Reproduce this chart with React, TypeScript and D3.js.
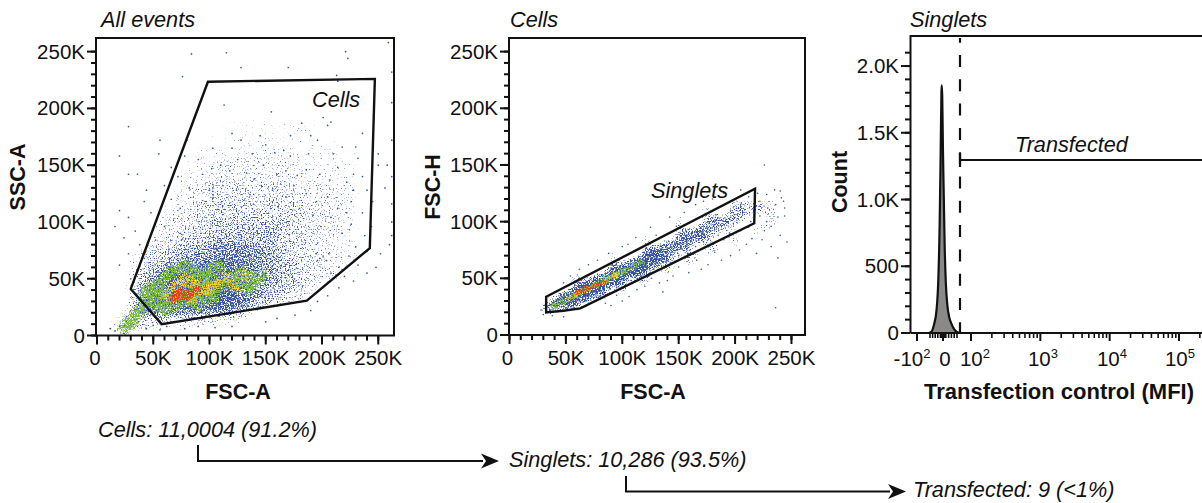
import React from "react";
import * as d3 from "d3";

const FONT = "'Liberation Sans', Arial, sans-serif";
const kTicks = [0, 50, 100, 150, 200, 250];
const kMinor = d3.range(0, 260, 10);
const countTicks = [0, 500, 1000, 1500, 2000];
const countLabels = ["0", "500", "1.0K", "1.5K", "2.0K"];
const countMinor = d3.range(0, 2200, 100);
const mfiMajor = [-100, 0, 100, 1000, 10000, 100000];
const mfiMinor = [-50, -40, -30, -20, -10, -5, 5, 10, 20, 30, 40, 50, 200, 300, 400, 500, 600, 700, 800, 900,
  2000, 3000, 4000, 5000, 6000, 7000, 8000, 9000, 20000, 30000, 40000, 50000, 60000, 70000, 80000, 90000, 200000];
const mfiLabels = [["-10", "2"], ["0", ""], ["10", "2"], ["10", "3"], ["10", "4"], ["10", "5"]];
const mfiLabelX = [912, 945, 975, 1043, 1112, 1180];

// density, FSC-A columns and SSC-A rows, in K
const gridX = [10, 30, 50, 70, 90, 110, 130, 150, 170, 190, 210, 230, 250];
const gridY = [190, 170, 150, 130, 110, 90, 70, 50, 30, 10];
const gridA = [
  [0, 0, 0, 0, 0, 1, 1, 1, 1, 1, 0, 0, 0],
  [0, 0, 0, 0, 1, 1, 2, 2, 2, 1, 1, 1, 0],
  [0, 0, 0, 1, 2, 3, 3, 3, 3, 2, 2, 1, 0],
  [0, 0, 0, 2, 3, 4, 4, 4, 4, 3, 3, 2, 0],
  [0, 0, 1, 3, 4, 5, 5, 5, 5, 4, 3, 2, 0],
  [0, 0, 2, 4, 5, 6, 6, 6, 5, 4, 3, 2, 0],
  [0, 2, 5, 6, 7, 8, 8, 7, 5, 4, 3, 2, 0],
  [0, 3, 7, 9, 9, 9, 8, 7, 6, 4, 3, 1, 0],
  [0, 4, 9, 9, 9, 9, 8, 6, 4, 2, 0, 0, 0],
  [3, 6, 4, 3, 3, 2, 1, 0, 0, 0, 0, 0, 0],
];
const greenA = [[24, 6], [30, 12], [36, 20], [42, 38], [50, 28], [55, 46], [62, 22], [66, 56], [75, 30], [78, 62], [90, 28], [92, 56], [104, 34], [108, 62], [118, 46], [128, 56], [135, 40], [146, 52], [84, 44], [100, 46], [58, 36]];
const yellowA = [[60, 34], [68, 44], [76, 36], [84, 30], [88, 46], [98, 38], [106, 46], [116, 52], [124, 40], [132, 54], [78, 52]];
const redA = [[68, 32], [74, 36], [80, 33], [84, 38], [72, 41], [90, 42]];

const pointsA = [
  [84, 248], [115, 249], [128, 236], [170, 236], [221, 250], [223, 244], [76, 228], [259, 258], [213, 229], [214, 224], [113, 203], [155, 197], [182, 187],
  [201, 192], [208, 188], [205, 185], [28, 184], [80, 172], [55, 160], [20, 158], [28, 142], [36, 142], [56, 172], [78, 158], [90, 155],
  [120, 178], [128, 172], [150, 168], [158, 161], [166, 163], [172, 158], [190, 176], [196, 172], [218, 166], [230, 166], [236, 178], [250, 160], [258, 150],
  [250, 150], [232, 156], [110, 150], [118, 145], [102, 147], [133, 143], [140, 138], [148, 150], [160, 142], [178, 141], [186, 146], [198, 142], [207, 137],
  [214, 148], [222, 135], [228, 142], [240, 128], [245, 118], [256, 130], [262, 116], [262, 100], [262, 88], [262, 140], [262, 172], [262, 205], [262, 232], [260, 80],
  [252, 72], [248, 60], [240, 55], [232, 62], [228, 48], [215, 42], [205, 35], [196, 30], [190, 22], [176, 18], [160, 15], [150, 12], [120, 8], [105, 7], [90, 8], [78, 6],
  [20, 110], [28, 104], [16, 96], [34, 92], [24, 86], [42, 118], [48, 108], [38, 80], [28, 72], [20, 62], [44, 128], [60, 132], [66, 120], [72, 140], [82, 130], [94, 142],
  [100, 128], [112, 132], [124, 128], [136, 124], [146, 132], [156, 128], [168, 122], [175, 132], [186, 125], [195, 118], [205, 122], [214, 112], [226, 118], [236, 108], [244, 96],
  [238, 88], [226, 98], [218, 90], [208, 104], [199, 96], [192, 106], [180, 112], [60, 96], [52, 84], [64, 76], [195, 72], [198, 68], [201, 70], [196, 66], [204, 66], [206, 72],
  [230, 78], [240, 74], [224, 70], [215, 60], [208, 55], [220, 52], [12, 6], [16, 4], [20, 8], [24, 2], [44, 6], [50, 9], [56, 5], [62, 8], [125, 155], [138, 160], [103, 165],
  [66, 148], [74, 112], [145, 176], [172, 176], [168, 145], [210, 160], [188, 160], [120, 165], [228, 128], [222, 108], [236, 140], [76, 85], [42, 68], [36, 58], [30, 50],
];

const stemsA = [[103, 118], [103, 121], [103, 124], [103, 127], [103, 130], [103, 133]];

const cellsB = [
  [35, 25, 7], [50, 31, 9], [65, 38, 9], [80, 46, 9], [95, 53, 9], [110, 60, 9], [125, 68, 9], [140, 76, 8], [155, 84, 8], [170, 90, 8], [185, 98, 7], [200, 104, 6], [215, 112, 5],
  [60, 28, 2], [80, 34, 4], [100, 42, 4], [120, 50, 5], [140, 60, 5], [160, 68, 5], [180, 76, 4], [200, 84, 4], [220, 92, 3], [235, 100, 3], [230, 115, 3],
  [60, 50, 3], [90, 68, 3], [120, 84, 3], [150, 100, 3], [175, 110, 3], [200, 120, 3],
];
const greenB = [[38, 25], [46, 29], [54, 33], [62, 37], [70, 41], [78, 45], [86, 49], [94, 53], [102, 57], [110, 61], [118, 65]];
const yellowB = [[52, 32], [60, 36], [68, 40], [76, 44], [84, 48], [92, 52], [98, 55]];
const redB = [[60, 37], [66, 40], [72, 42], [78, 45], [84, 47]];

const pointsB = [
  [226, 150], [228, 124], [235, 128], [240, 127], [241, 121], [243, 118], [236, 115], [244, 112], [229, 112], [222, 118], [238, 104], [244, 105], [232, 96],
  [226, 92], [240, 88], [224, 84], [232, 78], [219, 72], [210, 80], [204, 75], [196, 70], [188, 66], [182, 73], [176, 62], [170, 58], [166, 66], [159, 55], [150, 60],
  [145, 52], [140, 48], [133, 46], [126, 50], [120, 43], [113, 40], [106, 34], [100, 30], [95, 35], [90, 26], [85, 28], [136, 38], [158, 72], [190, 84], [212, 95], [246, 82], [238, 68],
  [236, 24], [100, 78], [88, 72], [78, 66], [70, 62], [62, 58], [54, 52], [48, 46], [80, 58], [112, 86], [105, 80], [125, 95], [130, 88], [142, 104], [155, 108], [148, 96],
  [165, 115], [172, 118], [180, 120], [190, 125], [205, 128], [197, 118], [212, 122], [205, 115], [196, 110], [183, 106], [176, 100], [214, 100], [222, 105], [220, 125],
  [228, 100], [215, 85], [205, 92], [195, 90], [185, 88], [172, 82], [165, 78], [150, 70], [138, 65], [128, 58], [118, 54], [108, 48], [95, 42], [30, 18], [28, 22], [38, 17], [48, 16],
];

const histMfi = [-55, -45, -35, -25, -18, -13, -9, -6, -5, -3, 0, 3, 6, 10, 16, 22, 30, 38, 48, 56];
const histCount = [0, 8, 60, 170, 400, 800, 1350, 1800, 1855, 1780, 1350, 1000, 650, 380, 200, 120, 70, 35, 10, 0];

const gateCells = [[98.6, 223.5], [247, 226], [242.5, 77], [186.5, 30.7], [57.5, 10], [30, 41]];
const gateSinglets = [[32.5, 33.7], [217.7, 129.1], [217, 98.6], [62.8, 23.5], [47.8, 21.4], [32.5, 20]];

// how much of an area gets a dot at each density level
const levelAlpha = [0, 0.42, 0.46, 0.49, 0.53, 0.57, 0.61, 0.67, 0.75, 0.88];

const xA = d3.scaleLinear().domain([0, 264]).range([97, 394]);
const yA = d3.scaleLinear().domain([0, 262]).range([335.5, 38]);
const xB = d3.scaleLinear().domain([0, 262]).range([509.5, 805]);
const yB = d3.scaleLinear().domain([0, 262]).range([335, 38]);
const yC = d3.scaleLinear().domain([0, 2210]).range([333, 38]);
const xLow = d3.scaleLinear().domain([-100, 0, 100]).range([917, 943, 971]);
const xLog = d3.scaleLog().domain([100, 100000]).range([971, 1179]);
const xC = (v: number) => (v <= 100 ? xLow(v) : xLog(v));

const BLUE = "#37559f";
const GREEN = "#7cbd45";
const YELLOW = "#f0cf2d";
const RED = "#e6401d";
const TICK = 20.5;
const LABEL = 21.5;
const NOTE = 21.7;

function Speckle({ id, colour, blur, cut, seed, children }: any) {
  return (
    <g>
      <filter id={id} filterUnits="userSpaceOnUse" x="0" y="0" width="1202" height="503" colorInterpolationFilters="sRGB">
        <feGaussianBlur in="SourceAlpha" stdDeviation={blur} result="b" />
        <feTurbulence type="fractalNoise" baseFrequency="0.75" numOctaves="2" seed={seed} result="n" />
        <feComposite in="b" in2="n" operator="arithmetic" k1="1" k2="0" k3="0" k4="0" result="m" />
        <feComponentTransfer in="m" result="t">
          <feFuncA type="linear" slope="10" intercept={-10 * cut} />
        </feComponentTransfer>
        <feFlood floodColor={colour} />
        <feComposite in2="t" operator="in" />
        <feGaussianBlur stdDeviation="0.3" />
      </filter>
      <g filter={`url(#${id})`}>{children}</g>
    </g>
  );
}

function Blobs({ list, sx, sy, size }: any) {
  return list.map((d: number[], i: number) => (
    <circle key={i} cx={sx(d[0])} cy={sy(d[1])} r={size} />
  ));
}

function KAxes({ sx, sy, left, bottom }: any) {
  return (
    <g fontFamily={FONT} fontSize={TICK} fill="#111">
      {kMinor.map((t) => (
        <g key={t} stroke="#111" strokeWidth={2}>
          <line x1={sx(t)} x2={sx(t)} y1={bottom} y2={bottom + 5} />
          <line x1={left} x2={left - 5} y1={sy(t)} y2={sy(t)} />
        </g>
      ))}
      {kTicks.map((t) => (
        <g key={t}>
          <line x1={sx(t)} x2={sx(t)} y1={bottom} y2={bottom + 9} stroke="#111" strokeWidth={2} />
          <line x1={left} x2={left - 9} y1={sy(t)} y2={sy(t)} stroke="#111" strokeWidth={2} />
          <text x={sx(t) - (t === 0 ? 2 : 0)} y={bottom + 29.5} textAnchor="middle" stroke="none">{t === 0 ? "0" : `${t}K`}</text>
          <text x={left - 11} y={sy(t) + 7} textAnchor="end" stroke="none">{t === 0 ? "0" : `${t}K`}</text>
        </g>
      ))}
    </g>
  );
}

export default function App() {
  const line = d3.line<number[]>().curve(d3.curveLinearClosed);
  const hist = d3.line<number>().x((d) => xC(d)).y((_, i) => yC(histCount[i])).curve(d3.curveMonotoneX);
  const cellW = xA(20) - xA(0);
  const cellH = yA(0) - yA(20);

  const arrow = (x: number, y0: number, y1: number, tip: number) => (
    <g>
      <path d={`M${x},${y0}V${y1}H${tip - 16}`} fill="none" stroke="#111" strokeWidth={2} />
      <path d={`M${tip - 18},${y1 - 7.5}L${tip},${y1}L${tip - 18},${y1 + 7.5}L${tip - 13},${y1}Z`} fill="#111" />
    </g>
  );

  const italics: [string, number, number][] = [
    ["All events", 101, 27],
    ["Cells", 510, 27],
    ["Singlets", 910, 27],
    ["Cells", 312, 107],
    ["Singlets", 651, 198],
    ["Transfected", 1015, 151.5],
    ["Cells: 11,0004 (91.2%)", 98, 437],
    ["Singlets: 10,286 (93.5%)", 509, 467],
    ["Transfected: 9 (<1%)", 913, 497],
  ];

  return (
    <svg width={1202} height={503} style={{ position: "absolute", left: 0, top: 0, background: "#fff" }}>
      {/* first plot */}
      <Speckle id="aBlue" colour={BLUE} blur={7} cut={0.3} seed={3}>
        {gridY.map((gy, r) => gridX.map((gx, c) => gridA[r][c] > 0 && (
          <rect key={`${r}-${c}`} x={xA(gx) - cellW / 2} y={yA(gy) - cellH / 2} width={cellW} height={cellH}
            fillOpacity={levelAlpha[gridA[r][c]]} />
        )))}
      </Speckle>
      <Speckle id="aGreen" colour={GREEN} blur={5} cut={0.37} seed={8}><Blobs list={greenA} sx={xA} sy={yA} size={10} /></Speckle>
      <Speckle id="aYellow" colour={YELLOW} blur={4} cut={0.38} seed={13}><Blobs list={yellowA} sx={xA} sy={yA} size={8} /></Speckle>
      <Speckle id="aRed" colour={RED} blur={3} cut={0.33} seed={21}><Blobs list={redA} sx={xA} sy={yA} size={6} /></Speckle>
      {pointsA.concat(stemsA).map((d, i) => <circle key={i} cx={xA(d[0])} cy={yA(d[1])} r={0.85} fill={BLUE} />)}
      <path d={line(gateCells.map((d) => [xA(d[0]), yA(d[1])]) as any)!} fill="none" stroke="#111" strokeWidth={2.4} />
      <rect x={96} y={38} width={298} height={297.5} fill="none" stroke="#111" strokeWidth={2} />
      <KAxes sx={xA} sy={yA} left={96} bottom={335.5} />

      {/* second plot */}
      <Speckle id="bBlue" colour={BLUE} blur={4.5} cut={0.3} seed={5}>
        {cellsB.map((d, i) => <circle key={i} cx={xB(d[0])} cy={yB(d[1])} r={11} fillOpacity={levelAlpha[d[2]]} />)}
      </Speckle>
      <Speckle id="bGreen" colour={GREEN} blur={3} cut={0.36} seed={9}><Blobs list={greenB} sx={xB} sy={yB} size={6} /></Speckle>
      <Speckle id="bYellow" colour={YELLOW} blur={2.5} cut={0.38} seed={17}><Blobs list={yellowB} sx={xB} sy={yB} size={5} /></Speckle>
      <Speckle id="bRed" colour={RED} blur={2} cut={0.33} seed={29}><Blobs list={redB} sx={xB} sy={yB} size={4} /></Speckle>
      {pointsB.map((d, i) => <circle key={i} cx={xB(d[0])} cy={yB(d[1])} r={0.8} fill={BLUE} />)}
      <path d={line(gateSinglets.map((d) => [xB(d[0]), yB(d[1])]) as any)!} fill="none" stroke="#111" strokeWidth={2.4} />
      <rect x={509} y={38} width={296} height={297} fill="none" stroke="#111" strokeWidth={2} />
      <KAxes sx={xB} sy={yB} left={509} bottom={335} />

      {/* histogram */}
      <path d={hist(histMfi)!} fill="#8b8888" stroke="#111" strokeWidth={2.2} />
      <path d="M910.5,333V36H1202M910.5,333H1202" fill="none" stroke="#111" strokeWidth={2} />
      <line x1={960} x2={960} y1={38} y2={333} stroke="#111" strokeWidth={2.2} strokeDasharray="12 12.3" strokeDashoffset={7.3} />
      <line x1={960} x2={1202} y1={160} y2={160} stroke="#111" strokeWidth={2} />
      <line x1={960} x2={960} y1={153} y2={167} stroke="#111" strokeWidth={2.2} />
      {countMinor.map((t) => <line key={t} x1={910} x2={905} y1={yC(t)} y2={yC(t)} stroke="#111" strokeWidth={2} />)}
      {countTicks.map((t, i) => (
        <g key={t}>
          <line x1={910} x2={901} y1={yC(t)} y2={yC(t)} stroke="#111" strokeWidth={2} />
          <text x={899} y={yC(t) + 7} textAnchor="end" fontFamily={FONT} fontSize={TICK} fill="#111">{countLabels[i]}</text>
        </g>
      ))}
      {mfiMinor.map((t) => <line key={t} x1={xC(t)} x2={xC(t)} y1={333} y2={338} stroke="#111" strokeWidth={1.6} />)}
      {mfiMajor.map((t, i) => (
        <g key={t}>
          <line x1={xC(t)} x2={xC(t)} y1={333} y2={341} stroke="#111" strokeWidth={2} />
          <text x={mfiLabelX[i]} y={366} textAnchor="middle" fontFamily={FONT} fontSize={TICK} fill="#111">
            {mfiLabels[i][0]}
            {mfiLabels[i][1] && <tspan fontSize={13} dy={-8}>{mfiLabels[i][1]}</tspan>}
          </text>
        </g>
      ))}

      {/* titles and notes */}
      {italics.map((d, i) => (
        <text key={i} x={d[1]} y={d[2]} fontFamily={FONT} fontStyle="italic" fontSize={NOTE} fill="#111">{d[0]}</text>
      ))}
      <g fontFamily={FONT} fontWeight="bold" fontSize={LABEL} fill="#111" textAnchor="middle">
        <text x={238} y={399}>FSC-A</text>
        <text x={653} y={399}>FSC-A</text>
        <text x={1059} y={399} fontSize={22}>Transfection control (MFI)</text>
        <text transform="translate(25,177) rotate(-90)">SSC-A</text>
        <text transform="translate(440,187) rotate(-90)">FSC-H</text>
        <text transform="translate(847,182) rotate(-90)">Count</text>
      </g>
      {arrow(198, 445, 461, 499)}
      {arrow(626, 476, 491.5, 906)}
    </svg>
  );
}
